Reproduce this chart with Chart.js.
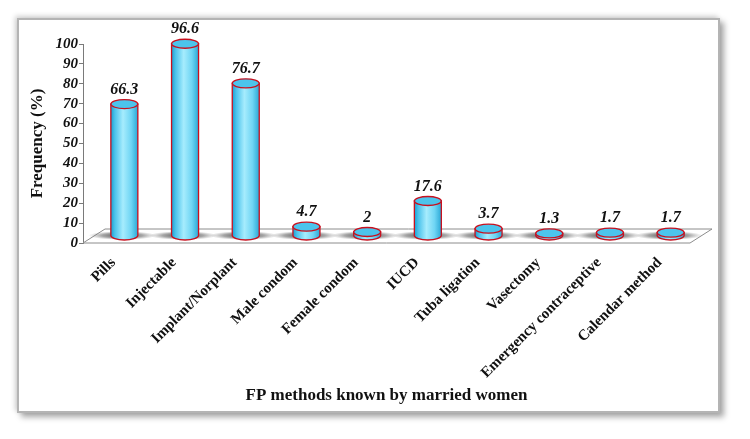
<!DOCTYPE html>
<html>
<head>
<meta charset="utf-8">
<script src="https://cdn.jsdelivr.net/npm/chart.js@4.4.1/dist/chart.umd.min.js"></script>
<style>
  html, body { margin: 0; padding: 0; background: #fff; }
  #wrap { position: relative; width: 750px; height: 439px; }
  #frame {
    position: absolute; left: 17px; top: 18px; width: 699px; height: 391px;
    background: #fff; border: 2px solid #b4b4b4;
    box-shadow: 4px 4px 6px rgba(0,0,0,0.35), -2px -2px 5px rgba(0,0,0,0.18);
  }
  #c { position: absolute; left: 0; top: 0; }
</style>
</head>
<body>
<div id="wrap">
  <div id="frame"></div>
  <canvas id="c" width="750" height="439"></canvas>
</div>
<script>
var categories = ['Pills', 'Injectable', 'Implant/Norplant', 'Male condom', 'Female condom',
                  'IUCD', 'Tuba ligation', 'Vasectomy', 'Emergency contraceptive', 'Calendar method'];
var values = [66.3, 96.6, 76.7, 4.7, 2, 17.6, 3.7, 1.3, 1.7, 1.7];
var yTicks = [0, 10, 20, 30, 40, 50, 60, 70, 80, 90, 100];

var serif = '"Liberation Serif", "Times New Roman", serif';
var depthX = 22, depthY = 14;

// floor of the 3d plot, drawn under the bars
var floorPlugin = {
    id: 'floor',
    beforeDatasetsDraw: function(chart){
        var a = chart.chartArea, ctx = chart.ctx;
        ctx.save();
        ctx.beginPath();
        ctx.moveTo(a.left, a.bottom);
        ctx.lineTo(a.left + depthX, a.bottom - depthY);
        ctx.lineTo(a.right + depthX, a.bottom - depthY);
        ctx.lineTo(a.right, a.bottom);
        ctx.closePath();
        ctx.fillStyle = '#ffffff';
        ctx.fill();
        ctx.strokeStyle = '#8c8c8c';
        ctx.lineWidth = 1;
        ctx.stroke();
        ctx.restore();
    }
};

// cylinders in place of the flat bars
var cylinderPlugin = {
    id: 'cylinders',
    afterDatasetsDraw: function(chart){
        var ctx = chart.ctx;
        var meta = chart.getDatasetMeta(0);
        meta.data.forEach(function(bar, i){
            var cx = bar.x + depthX / 2;
            var rx = bar.width / 2;
            var ry = 4.5;
            var yTop = bar.y - depthY / 2;
            var yBase = bar.base - depthY / 2;

            // shadow on the floor
            ctx.save();
            ctx.translate(cx - 2, yBase);
            ctx.scale(1, 0.13);
            var sg = ctx.createRadialGradient(0, 0, 0, 0, 0, 34);
            sg.addColorStop(0, 'rgba(50,50,50,0.9)');
            sg.addColorStop(0.6, 'rgba(80,80,80,0.5)');
            sg.addColorStop(1, 'rgba(120,120,120,0)');
            ctx.fillStyle = sg;
            ctx.beginPath();
            ctx.arc(0, 0, 34, 0, Math.PI * 2);
            ctx.fill();
            ctx.restore();

            ctx.save();
            var g = ctx.createLinearGradient(cx - rx, 0, cx + rx, 0);
            g.addColorStop(0, '#1a9fd0');
            g.addColorStop(0.15, '#4cc3ec');
            g.addColorStop(0.45, '#a6ecfd');
            g.addColorStop(0.75, '#6fd5f4');
            g.addColorStop(1, '#2aa8d6');

            // body
            ctx.beginPath();
            ctx.moveTo(cx - rx, yTop);
            ctx.lineTo(cx - rx, yBase);
            ctx.ellipse(cx, yBase, rx, ry, 0, Math.PI, 0, true);
            ctx.lineTo(cx + rx, yTop);
            ctx.closePath();
            ctx.fillStyle = g;
            ctx.fill();
            ctx.strokeStyle = '#c8101e';
            ctx.lineWidth = 1.3;
            ctx.stroke();

            // top
            ctx.beginPath();
            ctx.ellipse(cx, yTop, rx, ry, 0, 0, Math.PI * 2);
            ctx.fillStyle = '#4cc4ec';
            ctx.fill();
            ctx.stroke();
            ctx.restore();

            // value label
            ctx.save();
            ctx.font = 'italic bold 16px ' + serif;
            ctx.fillStyle = '#111';
            ctx.textAlign = 'center';
            ctx.textBaseline = 'bottom';
            ctx.fillText(String(values[i]), cx, yTop - ry - 2);
            ctx.restore();
        });
    }
};

new Chart(document.getElementById('c'), {
    type: 'bar',
    data: {
        labels: categories,
        datasets: [{
            data: values,
            backgroundColor: 'rgba(0,0,0,0)',
            borderWidth: 0,
            barThickness: 27
        }]
    },
    options: {
        responsive: false,
        animation: false,
        layout: { padding: { top: 44, right: 60, left: 0, bottom: 0 } },
        plugins: {
            legend: { display: false },
            tooltip: { enabled: false }
        },
        scales: {
            y: {
                min: 0, max: 100,
                afterFit: function(s){ s.width = 83; },
                afterBuildTicks: function(s){ s.ticks = yTicks.map(function(v){ return {value: v}; }); },
                grid: { drawOnChartArea: false, tickLength: 4, color: '#7a7a7a' },
                border: { display: true, color: '#7a7a7a' },
                ticks: {
                    autoSkip: false,
                    padding: 1,
                    color: '#111',
                    font: { family: serif, size: 15, weight: 'bold', style: 'italic' }
                },
                title: {
                    display: true,
                    text: 'Frequency (%)',
                    color: '#111',
                    padding: { top: 27, bottom: 0 },
                    font: { family: serif, size: 17, weight: 'bold' }
                }
            },
            x: {
                afterFit: function(s){ s.height = 196; },
                grid: { display: false },
                border: { display: false },
                ticks: {
                    autoSkip: false,
                    maxRotation: 45,
                    minRotation: 45,
                    padding: 3,
                    color: '#111',
                    font: { family: serif, size: 15, weight: 'bold' }
                },
                title: {
                    display: true,
                    text: 'FP methods known by married women',
                    color: '#111',
                    padding: { top: 0, bottom: 33 },
                    font: { family: serif, size: 17, weight: 'bold' }
                }
            }
        }
    },
    plugins: [floorPlugin, cylinderPlugin]
});
</script>
</body>
</html>
